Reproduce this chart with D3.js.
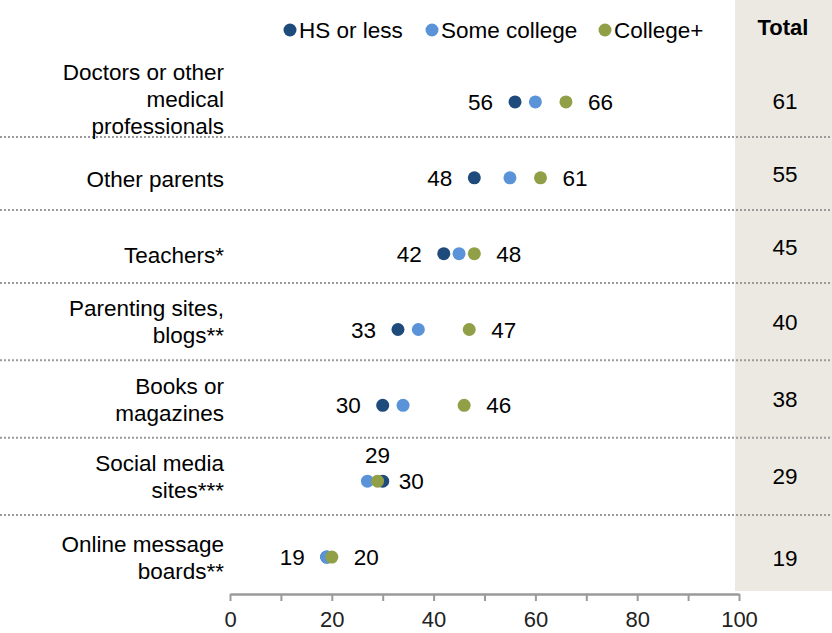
<!DOCTYPE html>
<html>
<head>
<meta charset="utf-8">
<script src="https://cdn.jsdelivr.net/npm/d3@7/dist/d3.min.js"></script>
<style>
  html, body { margin: 0; padding: 0; background: #fff; }
  svg { display: block; font-family: "Liberation Sans", Arial, sans-serif; }
</style>
</head>
<body>
<svg id="chart" width="832" height="633"></svg>
<script>
// Where parents get parenting advice, by education (% of parents)
const categories = [
  ["Doctors or other", "medical", "professionals"],
  ["Other parents"],
  ["Teachers*"],
  ["Parenting sites,", "blogs**"],
  ["Books or", "magazines"],
  ["Social media", "sites***"],
  ["Online message", "boards**"]
];
const seriesNames = ["HS or less", "Some college", "College+"];
const seriesColors = ["#1f4a7c", "#5a93d8", "#919f47"];
const hsOrLess    = [56, 48, 42, 33, 30, 30, 19];
const someCollege = [60, 55, 45, 37, 34, 27, 19];
const collegePlus = [66, 61, 48, 47, 46, 29, 20];
const totals      = [61, 55, 45, 40, 38, 29, 19];
const xTicks = [0, 10, 20, 30, 40, 50, 60, 70, 80, 90, 100];
const xTickLabels = ["0", "", "20", "", "40", "", "60", "", "80", "", "100"];

const series = [hsOrLess, someCollege, collegePlus];
const svg = d3.select("#chart");
const W = 832;
const FS = 22.5;

const x = d3.scaleLinear().domain([0, 100]).range([230, 739]);
const rowIdx = d3.range(categories.length);
const y = d3.scaleBand().domain(rowIdx).range([64, 595]);
const yc = i => y(i) + y.bandwidth() / 2;
// separators between table rows
const sepY = d3.scaleLinear().domain([1, 3, 6]).range([137, 283, 515]);
// vertical centre of each table row (between separators)
const rowTop = i => (i === 0 ? 64 : sepY(i));
const rowBot = i => (i === categories.length - 1 ? 600 : sepY(i + 1));
const rowMid = i => (rowTop(i) + rowBot(i)) / 2;

// Total column background
svg.append("rect")
  .attr("x", 735).attr("y", 0)
  .attr("width", W - 735).attr("height", 591)
  .attr("fill", "#ece9e2");

svg.append("text")
  .attr("x", 783).attr("y", 35)
  .attr("text-anchor", "middle")
  .attr("font-size", 22).attr("font-weight", "bold")
  .attr("fill", "#000")
  .text("Total");

// Dotted row separators
svg.append("g").selectAll("line")
  .data(rowIdx.slice(1))
  .join("line")
  .attr("x1", 0).attr("x2", W)
  .attr("y1", i => sepY(i)).attr("y2", i => sepY(i))
  .attr("stroke", "#9a9a9a")
  .attr("stroke-width", 2)
  .attr("stroke-dasharray", "2,2");

// Category labels
const labelG = svg.append("g");
categories.forEach((lines, i) => {
  const lh = 27;
  let mid = lines.length > 1 ? rowMid(i) : yc(i) + 1;
  if (lines.length > 2) mid -= 2; // keep the third line clear of the separator
  const top = mid - (lines.length - 1) * lh / 2;
  const t = labelG.append("text")
    .attr("text-anchor", "end")
    .attr("font-size", FS)
    .attr("fill", "#000");
  lines.forEach((ln, k) => {
    t.append("tspan").attr("x", 224).attr("y", top + k * lh + 8).text(ln);
  });
});

// Dots: HS first, then Some college, then College+ on top
const dotG = svg.append("g");
series.forEach((vals, s) => {
  dotG.selectAll(null)
    .data(vals)
    .join("circle")
    .attr("cx", d => x(d))
    .attr("cy", (d, i) => yc(i))
    .attr("r", 6.5)
    .attr("fill", seriesColors[s]);
});

// Value labels for HS or less and College+
const valG = svg.append("g").attr("font-size", FS).attr("fill", "#000");
rowIdx.forEach(i => {
  const vals = series.map(v => v[i]);
  const lo = d3.min(vals), hi = d3.max(vals);
  const hs = hsOrLess[i], cp = collegePlus[i];
  if (hs <= cp) {
    valG.append("text").attr("x", x(lo) - 22).attr("y", yc(i) + 8)
      .attr("text-anchor", "end").text(hs);
    valG.append("text").attr("x", x(hi) + 22).attr("y", yc(i) + 8)
      .attr("text-anchor", "start").text(cp);
  } else {
    // College+ sits inside the cluster here, so its label goes above
    valG.append("text").attr("x", x(hi) + 16).attr("y", yc(i) + 8)
      .attr("text-anchor", "start").text(hs);
    valG.append("text").attr("x", x(cp)).attr("y", yc(i) - 18)
      .attr("text-anchor", "middle").text(cp);
  }
});

// Totals
svg.append("g").selectAll("text")
  .data(totals)
  .join("text")
  .attr("x", 785).attr("y", (d, i) => rowMid(i) + 8)
  .attr("text-anchor", "middle")
  .attr("font-size", FS).attr("fill", "#000")
  .text(d => d);

// Legend
const legend = svg.append("g");
const legendX = [290, 432, 605];
seriesNames.forEach((name, s) => {
  legend.append("circle").attr("cx", legendX[s]).attr("cy", 30).attr("r", 6.5).attr("fill", seriesColors[s]);
  legend.append("text").attr("x", legendX[s] + 9).attr("y", 38)
    .attr("font-size", FS).attr("fill", "#000").text(name);
});

// X axis
const axis = d3.axisBottom(x)
  .tickValues(xTicks)
  .tickFormat((d, i) => xTickLabels[i])
  .tickSize(7)
  .tickPadding(10)
  .tickSizeOuter(0);
const ax = svg.append("g").attr("transform", "translate(0,594)").call(axis);
ax.select(".domain").attr("stroke", "#9a9a9a").attr("stroke-width", 2.5);
ax.selectAll(".tick line").attr("stroke", "#9a9a9a").attr("stroke-width", 2);
ax.selectAll(".tick text").attr("font-size", 22).attr("fill", "#222")
  .attr("font-family", "Liberation Sans, Arial, sans-serif");
</script>
</body>
</html>
